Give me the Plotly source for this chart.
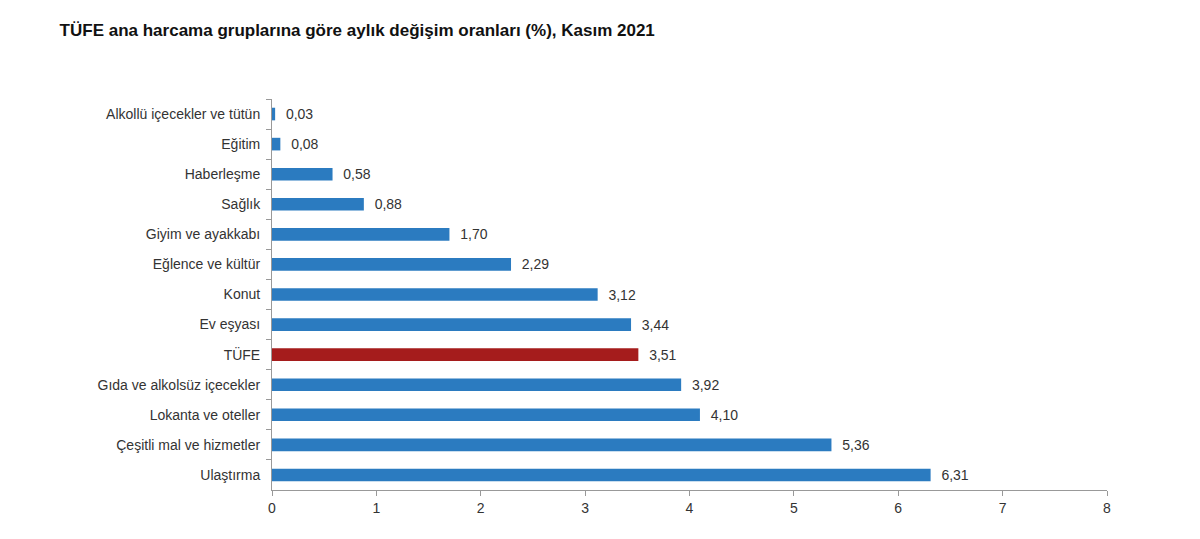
import plotly.graph_objects as go

categories = [
    "Alkollü içecekler ve tütün", "Eğitim", "Haberleşme", "Sağlık",
    "Giyim ve ayakkabı", "Eğlence ve kültür", "Konut", "Ev eşyası", "TÜFE",
    "Gıda ve alkolsüz içecekler", "Lokanta ve oteller",
    "Çeşitli mal ve hizmetler", "Ulaştırma",
]
values = [0.03, 0.08, 0.58, 0.88, 1.70, 2.29, 3.12, 3.44, 3.51, 3.92, 4.10, 5.36, 6.31]
labels = ["  " + f"{v:.2f}".replace(".", ",") for v in values]

colors = ["#a51c1c" if c == "TÜFE" else "#2b7bc0" for c in categories]

fig = go.Figure(
    go.Bar(
        x=values,
        y=categories,
        orientation="h",
        marker=dict(color=colors, line=dict(width=0)),
        text=labels,
        textposition="outside",
        constraintext="none",
        textfont=dict(size=14, color="#333333"),
        cliponaxis=False,
        width=0.42,
    )
)

fig.update_layout(
    width=1200,
    height=539,
    plot_bgcolor="white",
    paper_bgcolor="white",
    font=dict(family="Arial, Liberation Sans", size=13, color="#333333"),
    title=dict(
        text="<b>TÜFE ana harcama gruplarına göre aylık değişim oranları (%), Kasım 2021</b>",
        x=0.043, xanchor="left", y=0.96, yanchor="middle",
        font=dict(size=17, color="#111111"),
    ),
    margin=dict(l=264, r=101, t=91, b=57),
    showlegend=False,
)
fig.update_xaxes(
    range=[0, 8], dtick=1, showgrid=False, zeroline=False, automargin=False,
    showline=True, linecolor="#999999", ticks="outside", ticklen=5,
    tickcolor="#999999", tickfont=dict(size=14),
)
fig.update_yaxes(
    autorange="reversed", showgrid=False, showline=True, linecolor="#999999",
    ticks="outside", ticklen=5, tickcolor="#999999", tickson="boundaries",
    tickfont=dict(size=14), ticklabelstandoff=8, automargin=False,
)

fig.write_html("out.html")
